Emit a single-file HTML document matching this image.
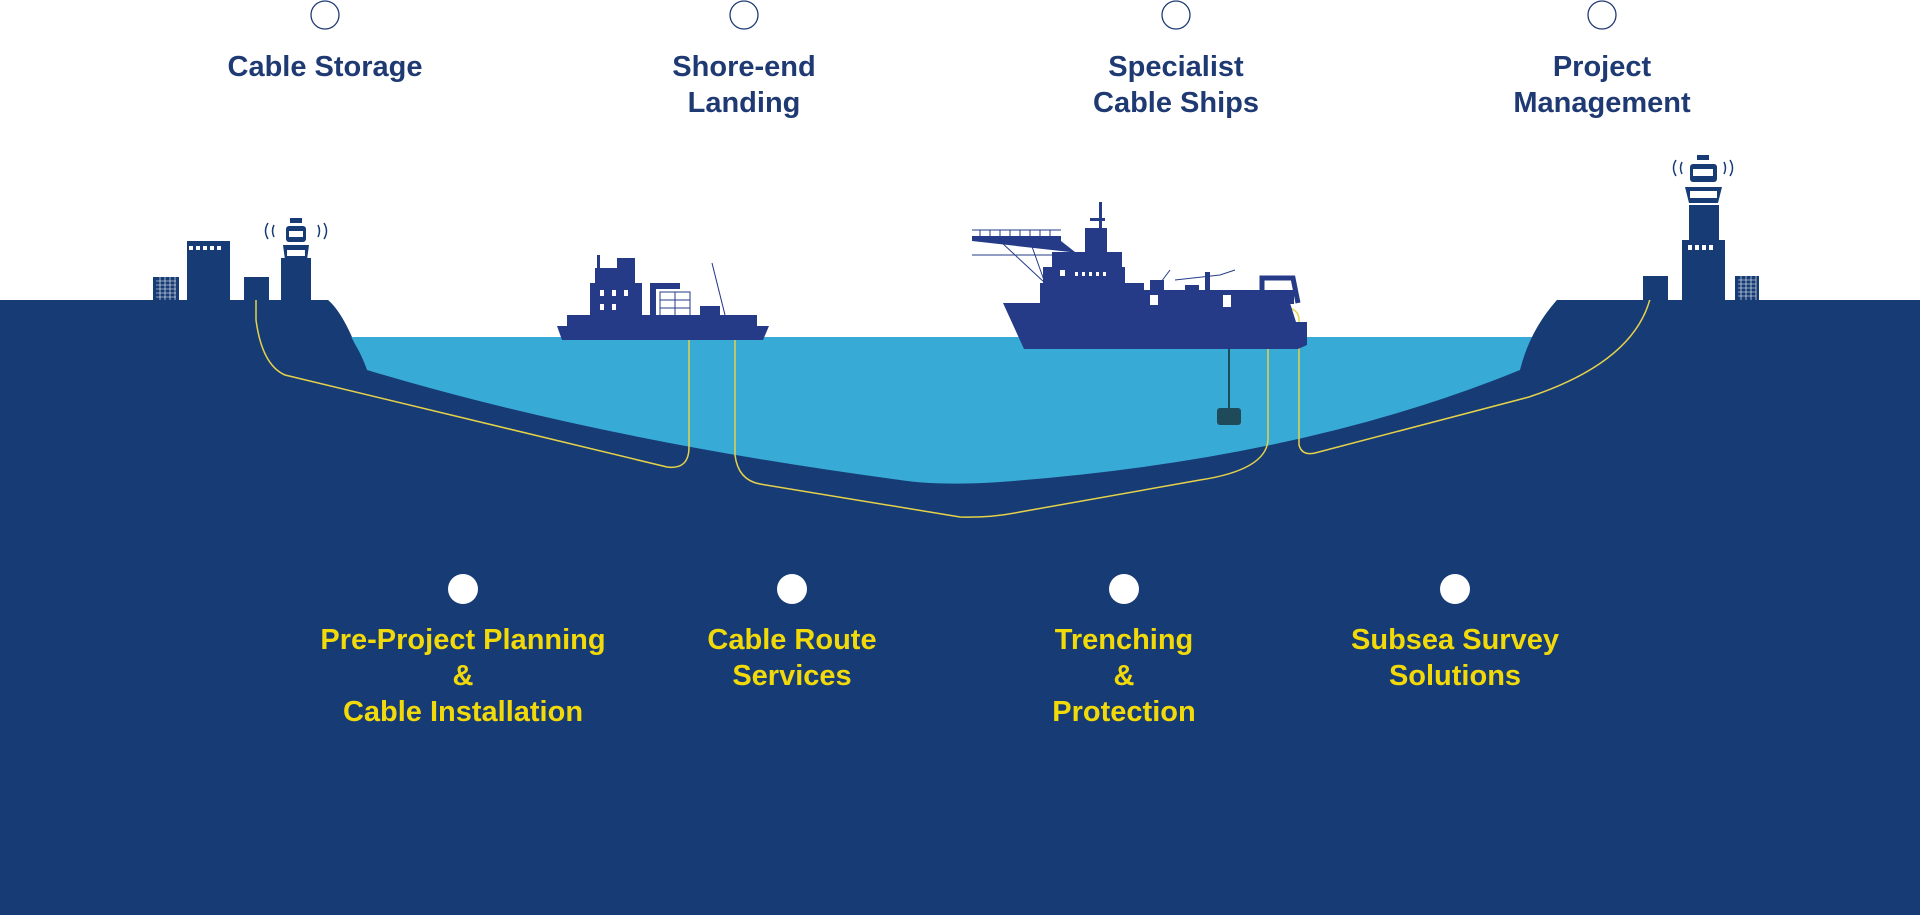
<!DOCTYPE html>
<html><head><meta charset="utf-8"><style>
html,body{margin:0;padding:0;background:#fff;}
svg{display:block;}
.t{font-family:"Liberation Sans",sans-serif;font-weight:bold;font-size:29px;text-anchor:middle;}
.n{fill:#1f3a73;}
.y{fill:#f2d90a;}
</style></head><body>
<svg width="1920" height="915" viewBox="0 0 1920 915" xmlns="http://www.w3.org/2000/svg">
<rect width="1920" height="915" fill="#fff"/>
<path d="M0 300 L328 300 Q340 310 352 337 L1536 337 Q1548 310 1557 300 L1920 300 L1920 915 L0 915 Z" fill="#173c75"/>
<path d="M350 337 L1538 337 Q1526 350 1520 370 Q1300 460 1000 482 Q940 486 900 480 Q600 440 367 370 Q360 350 350 337 Z" fill="#38aad6"/>
<path d="M328 300 Q345 320 367 370 L340 370 Z" fill="#173c75"/>
<path d="M1557 300 Q1530 330 1520 370 L1550 370 Z" fill="#173c75"/>

<path d="M256 300 L256 320 Q262 365 285 375 L667 467 Q689 470 689 447 L689 333 Q690 318 712 319 Q735 320 735 336 L735 455 Q738 480 760 484 L960 517 Q990 518 1020 512 L1200 480 Q1266 470 1268 440 L1268 320 Q1270 306 1283 307 Q1299 308 1299 320 L1299 445 Q1302 456 1315 453 L1529 397 Q1640 360 1652 290" fill="none" stroke="#e6d24a" stroke-width="1.5"/>

<g fill="#173c75">
<rect x="153" y="277" width="26" height="23"/>
<rect x="187" y="241" width="43" height="59"/>
<rect x="244" y="277" width="25" height="23"/>
<rect x="281" y="258" width="30" height="42"/>
<path d="M283 245 L309 245 L307 260 L285 260 Z"/>
<rect x="286" y="226" width="20" height="16" rx="3"/>
<rect x="290" y="218" width="12" height="5"/>
</g>
<g fill="#fff">
<rect x="189" y="246" width="4" height="4"/><rect x="196" y="246" width="4" height="4"/><rect x="203" y="246" width="4" height="4"/><rect x="210" y="246" width="4" height="4"/><rect x="217" y="246" width="4" height="4"/>
<rect x="287" y="250" width="18" height="6"/>
<rect x="289" y="231" width="14" height="6"/>
</g>
<g stroke="#fff" stroke-width="0.6"><path d="M156 281h20M156 285h20M156 289h20M156 293h20M156 297h20M160 277v23M165 277v23M170 277v23M175 277v23"/></g>
<g fill="none" stroke="#173c75" stroke-width="1.5"><path d="M268 223 Q263 231 268 239M274 225 Q271 231 274 237M324 223 Q329 231 324 239M318 225 Q321 231 318 237"/></g>

<g fill="#173c75">
<rect x="1643" y="276" width="25" height="24"/>
<rect x="1682" y="240" width="43" height="60"/>
<rect x="1689" y="205" width="30" height="40"/>
<path d="M1685 187 L1722 187 L1718 203 L1689 203 Z"/>
<rect x="1690" y="164" width="27" height="18" rx="3"/>
<rect x="1697" y="155" width="12" height="5"/>
<rect x="1735" y="276" width="24" height="24"/>
</g>
<g fill="#fff">
<rect x="1688" y="245" width="4" height="5"/><rect x="1695" y="245" width="4" height="5"/><rect x="1702" y="245" width="4" height="5"/><rect x="1709" y="245" width="4" height="5"/>
<rect x="1690" y="191" width="27" height="7"/>
<rect x="1693" y="169" width="20" height="7"/>
</g>
<g stroke="#fff" stroke-width="0.6"><path d="M1738 280h18M1738 284h18M1738 288h18M1738 292h18M1738 296h18M1741 276v24M1746 276v24M1751 276v24M1756 276v24"/></g>
<g fill="none" stroke="#173c75" stroke-width="1.5"><path d="M1676 160 Q1671 168 1676 176M1682 162 Q1679 168 1682 174M1730 160 Q1735 168 1730 176M1724 162 Q1727 168 1724 174"/></g>

<g fill="#253b88">
<path d="M557 326 L769 326 L763 340 L562 340 Z"/>
<rect x="567" y="315" width="190" height="12"/>
<rect x="590" y="283" width="52" height="33"/>
<rect x="595" y="268" width="40" height="16"/>
<rect x="617" y="258" width="18" height="12"/>
<rect x="597" y="255" width="3" height="30"/>
<rect x="650" y="283" width="30" height="6"/>
<rect x="650" y="283" width="6" height="33"/>
<rect x="700" y="306" width="20" height="12"/>
<rect x="733" y="315" width="20" height="11"/>
</g>
<g fill="none" stroke="#253b88" stroke-width="1"><rect x="660" y="292" width="30" height="24"/><path d="M660 300h30M660 308h30M675 292v24"/><path d="M712 263 L725 315"/></g>
<g fill="#fff"><rect x="600" y="290" width="4" height="6"/><rect x="612" y="290" width="4" height="6"/><rect x="624" y="290" width="4" height="6"/><rect x="600" y="304" width="4" height="6"/><rect x="612" y="304" width="4" height="6"/></g>

<g fill="#253b88">
<path d="M1003 303 L1290 303 L1296 322 L1307 322 L1307 345 L1298 349 L1024 349 Z"/>
<rect x="1040" y="283" width="104" height="21"/>
<rect x="1043" y="267" width="82" height="17"/>
<rect x="1052" y="252" width="70" height="16"/>
<rect x="1085" y="228" width="22" height="25"/>
<rect x="1099" y="202" width="3" height="28"/>
<rect x="1090" y="218" width="15" height="3"/>
<rect x="972" y="236" width="89" height="5"/>
<path d="M972 241 L1061 241 L1075 252 L1070 252 Z"/>
<rect x="1144" y="290" width="150" height="14"/>
<rect x="1150" y="280" width="14" height="12"/>
<rect x="1185" y="285" width="14" height="10"/>
<rect x="1205" y="272" width="5" height="22"/>
</g>
<g fill="none" stroke="#253b88" stroke-width="1">
<path d="M972 230h89M980 230v6M990 230v6M1000 230v6M1010 230v6M1020 230v6M1030 230v6M1040 230v6M1050 230v6"/>
<path d="M972 255h80M1000 241 L1045 283M1030 241 L1045 283"/>
<path d="M1155 290 L1170 270M1175 280 L1220 275 L1235 270"/>
</g>
<path d="M1262 303 L1262 278 L1293 278 L1298 303" fill="none" stroke="#253b88" stroke-width="5"/>
<g fill="#fff"><rect x="1060" y="270" width="5" height="6"/><rect x="1075" y="272" width="3" height="4"/><rect x="1082" y="272" width="3" height="4"/><rect x="1089" y="272" width="3" height="4"/><rect x="1096" y="272" width="3" height="4"/><rect x="1103" y="272" width="3" height="4"/><rect x="1150" y="295" width="8" height="10"/><rect x="1223" y="295" width="8" height="12"/></g>
<line x1="1229" y1="349" x2="1229" y2="410" stroke="#1e4a5a" stroke-width="2"/>
<rect x="1217" y="408" width="24" height="17" rx="3" fill="#1e4a5a"/>

<g fill="#fff" stroke="#1f3a73" stroke-width="1.3">
<circle cx="325" cy="15" r="14"/><circle cx="744" cy="15" r="14"/><circle cx="1176" cy="15" r="14"/><circle cx="1602" cy="15" r="14"/>
</g>
<text class="t n" x="325" y="76">Cable Storage</text>
<text class="t n" x="744" y="76">Shore-end</text><text class="t n" x="744" y="112">Landing</text>
<text class="t n" x="1176" y="76">Specialist</text><text class="t n" x="1176" y="112">Cable Ships</text>
<text class="t n" x="1602" y="76">Project</text><text class="t n" x="1602" y="112">Management</text>

<g fill="#fff"><circle cx="463" cy="589" r="15"/><circle cx="792" cy="589" r="15"/><circle cx="1124" cy="589" r="15"/><circle cx="1455" cy="589" r="15"/></g>
<text class="t y" x="463" y="649">Pre-Project Planning</text><text class="t y" x="463" y="685">&amp;</text><text class="t y" x="463" y="721">Cable Installation</text>
<text class="t y" x="792" y="649">Cable Route</text><text class="t y" x="792" y="685">Services</text>
<text class="t y" x="1124" y="649">Trenching</text><text class="t y" x="1124" y="685">&amp;</text><text class="t y" x="1124" y="721">Protection</text>
<text class="t y" x="1455" y="649">Subsea Survey</text><text class="t y" x="1455" y="685">Solutions</text>
</svg>
</body></html>
